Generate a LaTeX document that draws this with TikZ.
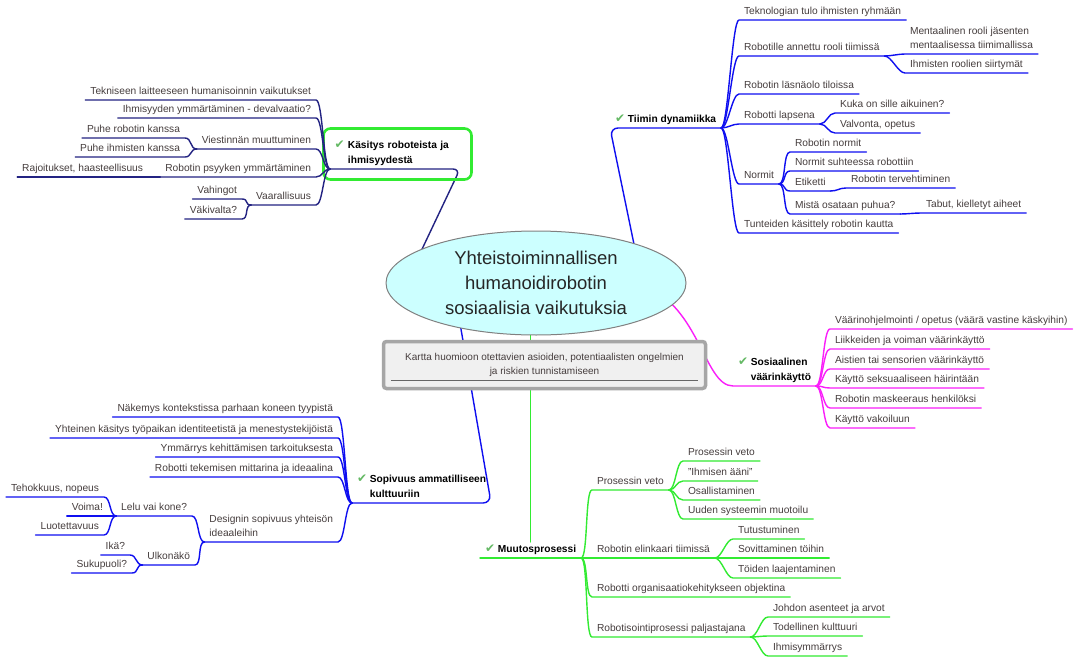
\documentclass[tikz,border=0pt]{standalone}
\usepackage{fontspec}
\setmainfont{Liberation Sans}
\newfontfamily\symbfont{DejaVu Sans}
\usetikzlibrary{shapes.geometric}
\usetikzlibrary{backgrounds}

\definecolor{tiimiblue}{RGB}{15,15,240}
\definecolor{kasnavy}{RGB}{35,35,130}
\definecolor{sosmagenta}{RGB}{250,30,250}
\definecolor{muugreen}{RGB}{50,235,50}
\definecolor{okgreen}{RGB}{100,185,100}
\definecolor{rootcyan}{RGB}{204,255,255}
\definecolor{labelgray}{RGB}{70,62,62}

\newcommand{\okmark}{{\symbfont\fontsize{12}{12}\selectfont\color{okgreen}✔}}
\newcommand{\okgap}{\hphantom{\okmark\ }}

\tikzset{
  rt/.style={anchor=south west, inner xsep=5pt, inner ysep=3pt, outer sep=0pt,
    text depth=2.5pt, align=left, text=labelgray, font=\fontsize{10.2}{14}\selectfont},
  lt/.style={rt, anchor=south east},
  topic/.style={rt, text=black, font=\fontsize{10.2}{15}\selectfont\bfseries},
  rb/.style={to path={.. controls +(7,0) and +(-7,0) .. (\tikztotarget)}},
  lb/.style={to path={.. controls +(-7,0) and +(7,0) .. (\tikztotarget)}},
  br/.style={line width=1.4pt, line cap=round}
}

\begin{document}
\begin{tikzpicture}[x=1pt,y=-1pt]
\useasboundingbox (0,0) rectangle (1086,663);

% centre
\node[ellipse, draw=gray, line width=1pt, fill=rootcyan, inner sep=0pt,
  minimum width=300pt, minimum height=104pt, align=center,
  font=\fontsize{18.5}{25}\selectfont, text=black!85] (root) at (536,283)
  {Yhteistoiminnallisen\\humanoidirobotin\\sosiaalisia vaikutuksia};
\node[draw=gray!70, line width=3.5pt, rounded corners=3pt, fill=gray!12,
  minimum width=322pt, minimum height=47pt, align=center, text=labelgray,
  font=\fontsize{10}{14}\selectfont] (info) at (544.5,365)
  {Kartta huomioon otettavien asioiden, potentiaalisten ongelmien\\ja riskien tunnistamiseen};
\draw[gray!80!black, line width=0.7pt] ([xshift=9pt,yshift=10pt]info.south west) -- ([xshift=-9pt,yshift=10pt]info.south east);

% main topics
\node[draw=muugreen, line width=2.6pt, rounded corners=7pt, minimum width=148pt,
  minimum height=51pt, text width=126pt, inner xsep=11pt, text depth=19pt, align=left,
  font=\fontsize{10.2}{15}\selectfont\bfseries] (kas) at (397.5,154)
  {\okmark\ Käsitys roboteista ja\\\okgap ihmisyydestä};
\coordinate (kasL) at (330,169);
\coordinate (kasR) at (460,169);
\node[topic] (tiimi) at (610,128) {\okmark\ Tiimin dynamiikka};
\node[topic] (sos) at (733,386) {\okmark\ Sosiaalinen\\\okgap väärinkäyttö};
\node[topic] (muu) at (480,558) {\okmark\ Muutosprosessi};
\node[topic] (sop) at (352,503) {\okmark\ Sopivuus ammatilliseen\\\okgap kulttuuriin};

\begin{scope}[on background layer]
  \fill[white] (0,0) rectangle (1086,663);
  \draw[br, kasnavy, rounded corners=7pt] ([xshift=-130pt]root.center) -- (kasR) -- (kasL);
  \draw[br, tiimiblue, rounded corners=8pt] ([xshift=106pt]root.center) -- (tiimi.south west) -- (tiimi.south east);
  \draw[br, tiimiblue, rounded corners=8pt] ([xshift=-83pt]root.center) -- (sop.south east) -- (sop.south west);
  \draw[br, sosmagenta] ([xshift=100pt]root.center) .. controls +(64,17) and +(-30,0) .. (sos.south west) -- (sos.south east);
  \draw[br, muugreen] (root.center -| muu.north) -- (muu.north);
\end{scope}

% Tiimin dynamiikka
\node[rt] (t1) at (739,20) {Teknologian tulo ihmisten ryhmään};
\node[rt] (t2) at (739,56) {Robotille annettu rooli tiimissä};
\node[rt] (t2a) at (905,54) {Mentaalinen rooli jäsenten\\mentaalisessa tiimimallissa};
\node[rt] (t2b) at (905,73) {Ihmisten roolien siirtymät};
\node[rt] (t3) at (739,94) {Robotin läsnäolo tiloissa};
\node[rt] (t4) at (739,124) {Robotti lapsena};
\node[rt] (t4a) at (835,113) {Kuka on sille aikuinen?};
\node[rt] (t4b) at (835,133) {Valvonta, opetus};
\node[rt] (t5) at (739,184) {Normit};
\node[rt] (t5a) at (790,152) {Robotin normit};
\node[rt] (t5b) at (790,171) {Normit suhteessa robottiin};
\node[rt] (t5c) at (790,191) {Etiketti};
\node[rt] (t5c1) at (846,188) {Robotin tervehtiminen};
\node[rt] (t5d) at (790,214) {Mistä osataan puhua?};
\node[rt] (t5d1) at (921,213) {Tabut, kielletyt aiheet};
\node[rt] (t6) at (739,233) {Tunteiden käsittely robotin kautta};

\draw[br, tiimiblue] (tiimi.south east) to[rb] (t1.south west) -- (t1.south east);
\draw[br, tiimiblue] (tiimi.south east) to[rb] (t2.south west) -- (t2.south east);
\draw[br, tiimiblue] (t2.south east) to[rb] (t2a.south west) -- (t2a.south east);
\draw[br, tiimiblue] (t2.south east) to[rb] (t2b.south west) -- (t2b.south east);
\draw[br, tiimiblue] (tiimi.south east) to[rb] (t3.south west) -- (t3.south east);
\draw[br, tiimiblue] (tiimi.south east) to[rb] (t4.south west) -- (t4.south east);
\draw[br, tiimiblue] (t4.south east) to[rb] (t4a.south west) -- (t4a.south east);
\draw[br, tiimiblue] (t4.south east) to[rb] (t4b.south west) -- (t4b.south east);
\draw[br, tiimiblue] (tiimi.south east) to[rb] (t5.south west) -- (t5.south east);
\draw[br, tiimiblue] (t5.south east) to[rb] (t5a.south west) -- (t5a.south east);
\draw[br, tiimiblue] (t5.south east) to[rb] (t5b.south west) -- (t5b.south east);
\draw[br, tiimiblue] (t5.south east) to[rb] (t5c.south west) -- (t5c.south east);
\draw[br, tiimiblue] (t5c.south east) to[rb] (t5c1.south west) -- (t5c1.south east);
\draw[br, tiimiblue] (t5.south east) to[rb] (t5d.south west) -- (t5d.south east);
\draw[br, tiimiblue] (t5d.south east) to[rb] (t5d1.south west) -- (t5d1.south east);
\draw[br, tiimiblue] (tiimi.south east) to[rb] (t6.south west) -- (t6.south east);

% Sosiaalinen vaarinkaytto
\node[rt] (s1) at (830,329) {Väärinohjelmointi / opetus (väärä vastine käskyihin)};
\node[rt] (s2) at (830,349) {Liikkeiden ja voiman väärinkäyttö};
\node[rt] (s3) at (830,369) {Aistien tai sensorien väärinkäyttö};
\node[rt] (s4) at (830,388) {Käyttö seksuaaliseen häirintään};
\node[rt] (s5) at (830,408) {Robotin maskeeraus henkilöksi};
\node[rt] (s6) at (830,428) {Käyttö vakoiluun};

\draw[br, sosmagenta] (sos.south east) to[rb] (s1.south west) -- (s1.south east);
\draw[br, sosmagenta] (sos.south east) to[rb] (s2.south west) -- (s2.south east);
\draw[br, sosmagenta] (sos.south east) to[rb] (s3.south west) -- (s3.south east);
\draw[br, sosmagenta] (sos.south east) to[rb] (s4.south west) -- (s4.south east);
\draw[br, sosmagenta] (sos.south east) to[rb] (s5.south west) -- (s5.south east);
\draw[br, sosmagenta] (sos.south east) to[rb] (s6.south west) -- (s6.south east);

% Muutosprosessi
\node[rt] (m1) at (592,490) {Prosessin veto};
\node[rt] (m1a) at (683,461) {Prosessin veto};
\node[rt] (m1b) at (683,481) {"Ihmisen ääni"};
\node[rt] (m1c) at (683,500) {Osallistaminen};
\node[rt] (m1d) at (683,519) {Uuden systeemin muotoilu};
\node[rt] (m2) at (592,558) {Robotin elinkaari tiimissä};
\node[rt] (m2a) at (733,539) {Tutustuminen};
\node[rt] (m2b) at (733,558) {Sovittaminen töihin};
\node[rt] (m2c) at (733,578) {Töiden laajentaminen};
\node[rt] (m3) at (592,597) {Robotti organisaatiokehitykseen objektina};
\node[rt] (m4) at (592,637) {Robotisointiprosessi paljastajana};
\node[rt] (m4a) at (768,617) {Johdon asenteet ja arvot};
\node[rt] (m4b) at (768,636) {Todellinen kulttuuri};
\node[rt] (m4c) at (768,656) {Ihmisymmärrys};

\draw[br, muugreen] (muu.south west) -- (muu.south east);
\draw[br, muugreen] (muu.south east) to[rb] (m1.south west) -- (m1.south east);
\draw[br, muugreen] (m1.south east) to[rb] (m1a.south west) -- (m1a.south east);
\draw[br, muugreen] (m1.south east) to[rb] (m1b.south west) -- (m1b.south east);
\draw[br, muugreen] (m1.south east) to[rb] (m1c.south west) -- (m1c.south east);
\draw[br, muugreen] (m1.south east) to[rb] (m1d.south west) -- (m1d.south east);
\draw[br, muugreen] (muu.south east) to[rb] (m2.south west) -- (m2.south east);
\draw[br, muugreen] (m2.south east) to[rb] (m2a.south west) -- (m2a.south east);
\draw[br, muugreen] (m2.south east) to[rb] (m2b.south west) -- (m2b.south east);
\draw[br, muugreen] (m2.south east) to[rb] (m2c.south west) -- (m2c.south east);
\draw[br, muugreen] (muu.south east) to[rb] (m3.south west) -- (m3.south east);
\draw[br, muugreen] (muu.south east) to[rb] (m4.south west) -- (m4.south east);
\draw[br, muugreen] (m4.south east) to[rb] (m4a.south west) -- (m4a.south east);
\draw[br, muugreen] (m4.south east) to[rb] (m4b.south west) -- (m4b.south east);
\draw[br, muugreen] (m4.south east) to[rb] (m4c.south west) -- (m4c.south east);

% Sopivuus ammatilliseen kulttuuriin
\node[lt] (p1) at (338,417) {Näkemys kontekstissa parhaan koneen tyypistä};
\node[lt] (p2) at (338,438) {Yhteinen käsitys työpaikan identiteetistä ja menestystekijöistä};
\node[lt] (p3) at (338,457) {Ymmärrys kehittämisen tarkoituksesta};
\node[lt] (p4) at (338,477) {Robotti tekemisen mittarina ja ideaalina};
\node[lt] (p5) at (338,542) {Designin sopivuus yhteisön\\ideaaleihin};
\node[lt] (p5a) at (192,516) {Lelu vai kone?};
\node[lt] (p5a1) at (104,497) {Tehokkuus, nopeus};
\node[lt] (p5a2) at (108,516) {Voima!};
\node[lt] (p5a3) at (104,535) {Luotettavuus};
\node[lt] (p5b) at (195,565) {Ulkonäkö};
\node[lt] (p5b1) at (130,555) {Ikä?};
\node[lt] (p5b2) at (132,573) {Sukupuoli?};

\draw[br, tiimiblue] (sop.south west) to[lb] (p1.south east) -- (p1.south west);
\draw[br, tiimiblue] (sop.south west) to[lb] (p2.south east) -- (p2.south west);
\draw[br, tiimiblue] (sop.south west) to[lb] (p3.south east) -- (p3.south west);
\draw[br, tiimiblue] (sop.south west) to[lb] (p4.south east) -- (p4.south west);
\draw[br, tiimiblue] (sop.south west) to[lb] (p5.south east) -- (p5.south west);
\draw[br, tiimiblue] (p5.south west) to[lb] (p5a.south east) -- (p5a.south west);
\draw[br, tiimiblue] (p5a.south west) to[lb] (p5a1.south east) -- (p5a1.south west);
\draw[br, tiimiblue] (p5a.south west) to[lb] (p5a2.south east) -- (p5a2.south west);
\draw[br, tiimiblue] (p5a.south west) to[lb] (p5a3.south east) -- (p5a3.south west);
\draw[br, tiimiblue] (p5.south west) to[lb] (p5b.south east) -- (p5b.south west);
\draw[br, tiimiblue] (p5b.south west) to[lb] (p5b1.south east) -- (p5b1.south west);
\draw[br, tiimiblue] (p5b.south west) to[lb] (p5b2.south east) -- (p5b2.south west);

% Kasitys roboteista ja ihmisyydesta
\node[lt] (k1) at (316,100) {Tekniseen laitteeseen humanisoinnin vaikutukset};
\node[lt] (k2) at (316,118) {Ihmisyyden ymmärtäminen - devalvaatio?};
\node[lt] (k3) at (316,149) {Viestinnän muuttuminen};
\node[lt] (k3a) at (185,138) {Puhe robotin kanssa};
\node[lt] (k3b) at (185,157) {Puhe ihmisten kanssa};
\node[lt] (k4) at (316,177) {Robotin psyyken ymmärtäminen};
\node[lt] (k4a) at (148,177) {Rajoitukset, haasteellisuus};
\node[lt] (k5) at (316,205) {Vaarallisuus};
\node[lt] (k5a) at (242,199) {Vahingot};
\node[lt] (k5b) at (242,219) {Väkivalta?};

\draw[br, kasnavy] (kasL) to[lb] (k1.south east) -- (k1.south west);
\draw[br, kasnavy] (kasL) to[lb] (k2.south east) -- (k2.south west);
\draw[br, kasnavy] (kasL) to[lb] (k3.south east) -- (k3.south west);
\draw[br, kasnavy] (k3.south west) to[lb] (k3a.south east) -- (k3a.south west);
\draw[br, kasnavy] (k3.south west) to[lb] (k3b.south east) -- (k3b.south west);
\draw[br, kasnavy] (kasL) to[lb] (k4.south east) -- (k4.south west);
\draw[br, kasnavy] (k4.south west) to[lb] (k4a.south east) -- (k4a.south west);
\draw[br, kasnavy] (kasL) to[lb] (k5.south east) -- (k5.south west);
\draw[br, kasnavy] (k5.south west) to[lb] (k5a.south east) -- (k5a.south west);
\draw[br, kasnavy] (k5.south west) to[lb] (k5b.south east) -- (k5b.south west);
\end{tikzpicture}
\end{document}
